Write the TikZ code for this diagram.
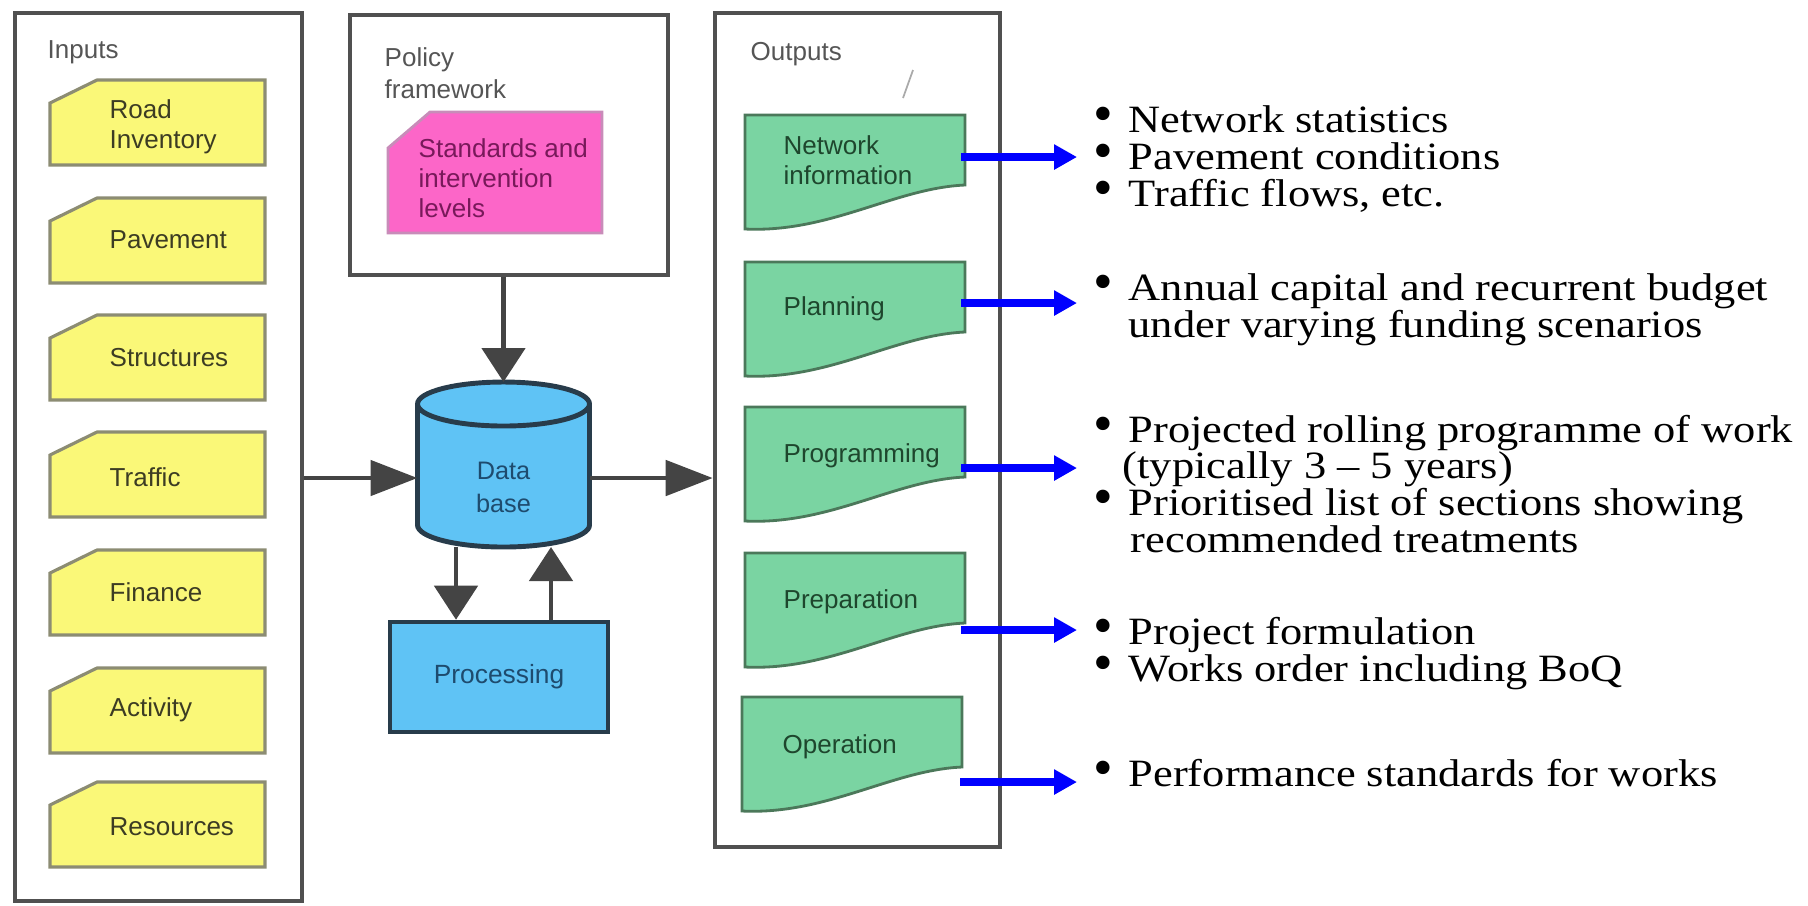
\documentclass[tikz,border=0pt]{standalone}
\usepackage{fontspec}
\setmainfont{Liberation Serif}
\setsansfont{Liberation Sans}
\newfontfamily\listfont[FakeStretch=1.15]{Liberation Serif}
\usepackage{tikz}
\usetikzlibrary{arrows.meta,calc}
\usepackage{xcolor}
\definecolor{frgray}{RGB}{80,80,80}
\definecolor{argray}{RGB}{68,68,68}
\definecolor{lblgray}{RGB}{85,85,85}
\definecolor{inyellow}{RGB}{250,248,120}
\definecolor{inedge}{RGB}{140,140,115}
\definecolor{intxt}{RGB}{60,60,35}
\definecolor{polpink}{RGB}{252,102,200}
\definecolor{poledge}{RGB}{200,140,185}
\definecolor{poltxt}{RGB}{120,25,90}
\definecolor{dbblue}{RGB}{95,195,245}
\definecolor{dbedge}{RGB}{40,60,75}
\definecolor{dbtxt}{RGB}{30,75,110}
\definecolor{outgreen}{RGB}{122,212,162}
\definecolor{outedge}{RGB}{75,120,90}
\definecolor{outtxt}{RGB}{30,70,45}
\definecolor{arblue}{RGB}{0,0,255}
\newcommand{\listdot}{\hspace*{0.16cm}\makebox[0.35cm][l]{\rmfamily\fontsize{16}{10}\selectfont\textbullet}}
\tikzstyle{frame} = [draw=frgray, line width=1.3pt, inner sep=0]
\tikzstyle{boxlabel} = [font=\sffamily\fontsize{7.4}{9}\selectfont, text=lblgray, align=left, anchor=west, inner sep=0]
\tikzstyle{intab} = [draw=inedge, fill=inyellow, line width=0.9pt]
\tikzstyle{intext} = [font=\sffamily\fontsize{7.4}{8.6}\selectfont, text=intxt, align=left, anchor=west, inner sep=0]
\tikzstyle{poltab} = [draw=poledge, fill=polpink, line width=0.8pt]
\tikzstyle{poltext} = [font=\sffamily\fontsize{7.4}{8.6}\selectfont, text=poltxt, align=left, anchor=west, inner sep=0]
\tikzstyle{dbnode} = [minimum width=1.72cm, minimum height=1.65cm, inner sep=0, outer sep=0]
\tikzstyle{dbshape} = [draw=dbedge, fill=dbblue, line width=1.4pt]
\tikzstyle{dblabel} = [font=\sffamily\fontsize{7.2}{9.4}\selectfont, text=dbtxt, align=center, inner sep=0]
\tikzstyle{procbox} = [draw=dbedge, fill=dbblue, line width=1.3pt, minimum width=2.18cm, minimum height=1.10cm, font=\sffamily\fontsize{7.5}{8.6}\selectfont, text=dbtxt]
\tikzstyle{outtab} = [draw=outedge, fill=outgreen, line width=0.8pt]
\tikzstyle{outtext} = [font=\sffamily\fontsize{7.4}{8.4}\selectfont, text=outtxt, align=left, anchor=west, inner sep=0, text width=1.77cm]
\tikzstyle{outlist} = [font={\listfont\fontsize{11}{10.4}\selectfont\lineskiplimit-20pt}, align=left, anchor=base west, inner sep=0]
\tikzstyle{hflow} = [-{Triangle[length=0.47cm,width=0.35cm]}, draw=argray, line width=1.4pt]
\tikzstyle{vflow} = [-{Triangle[length=0.34cm,width=0.43cm]}, draw=argray, line width=1.4pt]
\tikzstyle{outarrow} = [-{Triangle[length=0.23cm,width=0.24cm]}, draw=arblue, line width=2.2pt]

\begin{document}
\begin{tikzpicture}
    \useasboundingbox (0,0) rectangle (18.08,-9.05);

    % Frames
    \node[frame, minimum width=2.87cm, minimum height=8.88cm] (inputs) at (1.585,-4.57) {};
    \node[frame, minimum width=3.18cm, minimum height=2.60cm] (policy) at (5.09,-1.45) {};
    \node[frame, minimum width=2.85cm, minimum height=8.34cm] (outputs) at (8.575,-4.30) {};
    \node[boxlabel] (inlbl) at (0.47,-0.52) {Inputs};
    \node[boxlabel] (pollbl) at (3.84,-0.73) {Policy\\framework};
    \node[boxlabel] (outlbl) at (7.50,-0.54) {Outputs};
    \draw[lblgray!50, line width=0.5pt] (9.13,-0.70) -- (9.03,-0.98);

    % Inputs
    \draw[intab] (0.50,-1.03) -- (0.97,-0.80) -- (2.65,-0.80) -- (2.65,-1.65) -- (0.50,-1.65) -- cycle;
    \draw[intab] (0.50,-2.21) -- (0.97,-1.98) -- (2.65,-1.98) -- (2.65,-2.83) -- (0.50,-2.83) -- cycle;
    \draw[intab] (0.50,-3.38) -- (0.97,-3.15) -- (2.65,-3.15) -- (2.65,-4.00) -- (0.50,-4.00) -- cycle;
    \draw[intab] (0.50,-4.55) -- (0.97,-4.32) -- (2.65,-4.32) -- (2.65,-5.17) -- (0.50,-5.17) -- cycle;
    \draw[intab] (0.50,-5.73) -- (0.97,-5.50) -- (2.65,-5.50) -- (2.65,-6.35) -- (0.50,-6.35) -- cycle;
    \draw[intab] (0.50,-6.91) -- (0.97,-6.68) -- (2.65,-6.68) -- (2.65,-7.53) -- (0.50,-7.53) -- cycle;
    \draw[intab] (0.50,-8.05) -- (0.97,-7.82) -- (2.65,-7.82) -- (2.65,-8.67) -- (0.50,-8.67) -- cycle;
    \node[intext] (road) at (1.09,-1.27) {Road\\Inventory};
    \node[intext] (pavement) at (1.09,-2.40) {Pavement};
    \node[intext] (structures) at (1.09,-3.58) {Structures};
    \node[intext] (traffic) at (1.09,-4.77) {Traffic};
    \node[intext] (finance) at (1.09,-5.92) {Finance};
    \node[intext] (activity) at (1.09,-7.10) {Activity};
    \node[intext] (resources) at (1.09,-8.27) {Resources};

    % Policy
    \draw[poltab] (3.88,-1.48) -- (4.30,-1.12) -- (6.02,-1.12) -- (6.02,-2.33) -- (3.88,-2.33) -- cycle;
    \node[poltext] (standards) at (4.18,-1.78) {Standards and\\intervention\\levels};

    % Database and processing
    \node[dbnode] (db) at (5.035,-4.645) {};
    \draw[dbshape] ($(db.north west)+(0,-0.22)$) -- ($(db.south west)+(0,0.22)$)
        arc[start angle=180, end angle=360, x radius=0.86cm, y radius=0.22cm]
        -- ($(db.north east)+(0,-0.22)$)
        arc[start angle=0, end angle=180, x radius=0.86cm, y radius=0.22cm] -- cycle;
    \draw[dbshape, fill=none] ($(db.north west)+(0,-0.22)$) arc[start angle=180, end angle=360, x radius=0.86cm, y radius=0.22cm];
    \node[dblabel] (dbtext) at ([yshift=-2.3mm]db.center) {Data\\base};
    \node[procbox] (proc) at (4.99,-6.77) {Processing};

    % Outputs
    \draw[outtab] (7.45,-1.15) -- (9.65,-1.15) -- (9.65,-1.85) .. controls (8.95,-1.88) and (8.30,-2.33) .. (7.45,-2.29) -- cycle;
    \draw[outtab] (7.45,-2.62) -- (9.65,-2.62) -- (9.65,-3.32) .. controls (8.95,-3.35) and (8.30,-3.80) .. (7.45,-3.76) -- cycle;
    \draw[outtab] (7.45,-4.07) -- (9.65,-4.07) -- (9.65,-4.77) .. controls (8.95,-4.80) and (8.30,-5.25) .. (7.45,-5.21) -- cycle;
    \draw[outtab] (7.45,-5.53) -- (9.65,-5.53) -- (9.65,-6.23) .. controls (8.95,-6.26) and (8.30,-6.71) .. (7.45,-6.67) -- cycle;
    \draw[outtab] (7.42,-6.97) -- (9.62,-6.97) -- (9.62,-7.67) .. controls (8.92,-7.70) and (8.27,-8.15) .. (7.42,-8.11) -- cycle;
    \node[outtext] (netinfo) at (7.83,-1.60) {Network\\information};
    \node[outtext] (planning) at (7.83,-3.09) {Planning};
    \node[outtext] (programming) at (7.83,-4.56) {Programming};
    \node[outtext] (preparation) at (7.83,-6.02) {Preparation};
    \node[outtext] (operation) at (7.82,-7.47) {Operation};

    % Lists (anchored at the baseline of their last line)
    \node[outlist] (netlist) at (10.77,-2.06) {\listdot Network statistics\\
        \listdot Pavement conditions\\
        \listdot Traffic flows, etc.};
    \node[outlist] (planlist) at (10.77,-3.37) {\listdot Annual capital and recurrent budget\\
        \hspace*{0.51cm}under varying funding scenarios};
    \node[outlist] (proglist) at (10.77,-5.52) {\listdot Projected rolling programme of work\\
        \hspace*{0.45cm}(typically 3 – 5 years)\\
        \listdot Prioritised list of sections showing\\
        \hspace*{0.53cm}recommended treatments};
    \node[outlist] (preplist) at (10.77,-6.81) {\listdot Project formulation\\
        \listdot Works order including BoQ};
    \node[outlist] (operlist) at (10.77,-7.86) {\listdot Performance standards for works};

    % Flow arrows
    \draw[hflow] (inputs.east |- 0,-4.78) -- (db.west |- 0,-4.78);
    \draw[hflow] (db.east |- 0,-4.78) -- (outputs.west |- 0,-4.78);
    \draw[vflow] (policy.south -| db.north) -- (db.north);
    \draw[vflow] ([xshift=-4.75mm]db.south) -- ([xshift=-4.75mm]db.south |- proc.north);
    \draw[vflow] ([xshift=4.75mm]db.south |- proc.north) -- ([xshift=4.75mm]db.south);

    % Output arrows
    \draw[outarrow] (netinfo.east |- 0,-1.57) -- (netlist.west |- 0,-1.57);
    \draw[outarrow] (planning.east |- 0,-3.03) -- (planlist.west |- 0,-3.03);
    \draw[outarrow] (programming.east |- 0,-4.68) -- (proglist.west |- 0,-4.68);
    \draw[outarrow] (preparation.east |- 0,-6.30) -- (preplist.west |- 0,-6.30);
    \draw[outarrow] (operation.east |- 0,-7.82) -- (operlist.west |- 0,-7.82);
\end{tikzpicture}
\end{document}
